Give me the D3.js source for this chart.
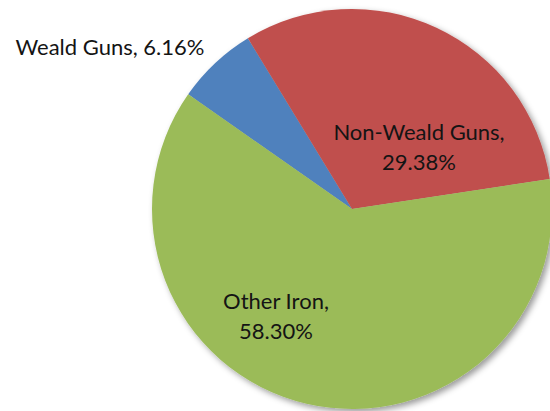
<!DOCTYPE html>
<html>
<head>
<meta charset="utf-8">
<script src="https://cdn.jsdelivr.net/npm/d3@7"></script>
<style>
  html, body { margin: 0; padding: 0; background: #fff; }
  svg { display: block; }
  text { font-family: Lato, "Open Sans", sans-serif; fill: #141414; }
</style>
</head>
<body>
<svg id="chart" width="550" height="411"></svg>
<script>
const categories = ["Weald Guns", "Non-Weald Guns", "Other Iron"];
const values = [6.16, 29.38, 58.30];
const colors = ["#4F81BD", "#C0504D", "#9BBB59"];
// label line anchors (center x, first baseline y) relative to svg
const labelAnchors = [[110, 55], [419, 140], [276, 309]];
const labelInside = [false, true, true];

const width = 550, height = 411;
const cx = 352, cy = 209, radius = 200;
const startDeg = -55;

const svg = d3.select("#chart");
const defs = svg.append("defs");
const f = defs.append("filter").attr("id", "shadow")
  .attr("x", "-10%").attr("y", "-10%").attr("width", "130%").attr("height", "130%");
f.append("feDropShadow").attr("dx", 3).attr("dy", 3).attr("stdDeviation", 3)
  .attr("flood-color", "#000").attr("flood-opacity", 0.4);

const data = categories.map((c, i) => ({ name: c, value: values[i], color: colors[i] }));

const pie = d3.pie().sort(null).value(d => d.value)
  .startAngle(startDeg * Math.PI / 180)
  .endAngle(startDeg * Math.PI / 180 + 2 * Math.PI);
const arc = d3.arc().innerRadius(0).outerRadius(radius);

const g = svg.append("g").attr("transform", `translate(${cx},${cy})`)
  .attr("filter", "url(#shadow)");
g.selectAll("path").data(pie(data)).join("path")
  .attr("d", arc)
  .attr("fill", d => d.data.color);

const fmt = v => v.toFixed(2) + "%";
const fontSize = 22;
const lineH = 30;
data.forEach((d, i) => {
  const [x, y] = labelAnchors[i];
  const t = svg.append("text")
    .attr("text-anchor", "middle")
    .attr("font-size", fontSize);
  if (labelInside[i]) {
    t.append("tspan").attr("x", x).attr("y", y).text(d.name + ",");
    t.append("tspan").attr("x", x).attr("y", y + lineH).text(fmt(d.value));
  } else {
    t.attr("x", x).attr("y", y).text(d.name + ", " + fmt(d.value));
  }
});
</script>
</body>
</html>
